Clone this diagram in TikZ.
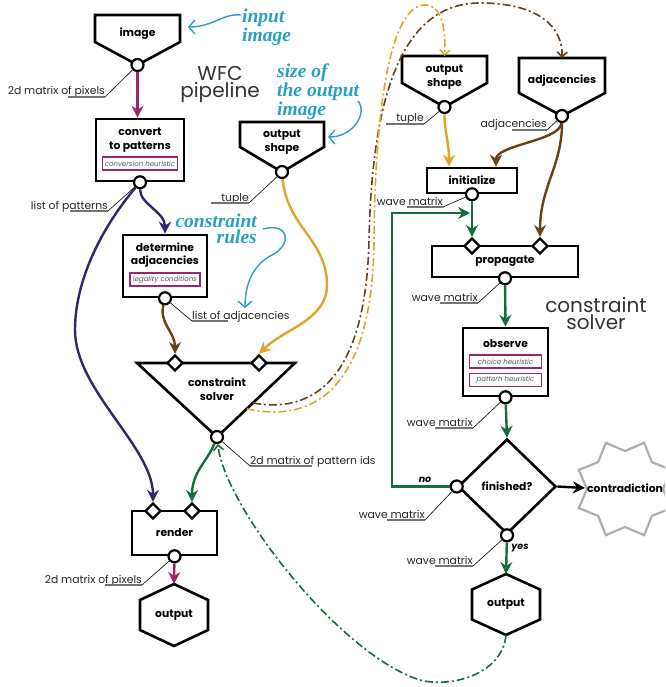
\documentclass[tikz,border=0pt]{standalone}
\usepackage{fontspec}
\setmainfont{Poppins}
\newfontfamily\notefont{Liberation Serif}
\usetikzlibrary{arrows.meta,shapes.geometric,calc}

\definecolor{wfcmagenta}{RGB}{155,38,104}
\definecolor{wfcnavy}{RGB}{45,40,105}
\definecolor{wfcbrown}{RGB}{105,65,25}
\definecolor{wfcgold}{RGB}{222,165,45}
\definecolor{wfcgreen}{RGB}{20,110,60}
\definecolor{wfccyan}{RGB}{40,160,195}
\definecolor{wfcgray}{RGB}{175,175,175}

\begin{document}
\begin{tikzpicture}[
    x=1pt, y=-1pt,
    every node/.style={align=center, inner sep=0pt},
    % Stile per i contorni dei blocchi
    outline/.style={line width=2.6pt, line join=miter},
    block/.style={draw, line width=2.6pt, fill=white},
    % Stile per i testi dei blocchi
    txt/.style={font=\bfseries\fontsize{10.8}{13.5}\selectfont},
    % Stile per le euristiche
    heur/.style={draw=wfcmagenta, line width=1.3pt, minimum height=13pt, font=\itshape\fontsize{7}{8}\selectfont, text=black!65},
    % Porte di uscita e di ingresso
    outport/.style={circle, draw, fill=white, line width=2.2pt, minimum size=12pt},
    inport/.style={diamond, draw, fill=white, line width=2.2pt, minimum size=16pt},
    % Etichette dei dati
    lbl/.style={font=\fontsize{10.8}{12}\selectfont, text=black!85},
    uline/.style={draw=black!55, line width=1.1pt},
    leader/.style={line width=0.6pt},
    % Frecce
    flow/.style={line width=2.4pt, -{Stealth[length=12pt,width=12pt,inset=4pt]}},
    remote/.style={line width=1.6pt, dash pattern=on 8pt off 3pt on 2pt off 3pt, -{Straight Barb[length=5pt,width=10pt]}},
    % Note e titoli
    note/.style={font=\notefont\bfseries\itshape\fontsize{19.5}{15.5}\selectfont, text=wfccyan},
    notearrow/.style={draw=wfccyan, line width=1.4pt, -{Straight Barb[length=6pt,width=14pt]}},
    title/.style={font=\fontsize{20}{17}\selectfont, text=black!80},
    branch/.style={font=\bfseries\itshape\fontsize{9.5}{11}\selectfont}
]
\useasboundingbox (0,0) rectangle (665,687);
\clip (0,0) rectangle (665,687);

% --- PIPELINE WFC ---
% Immagine di ingresso
\node[txt] (img) at (137.5,34) {image};
\draw[outline] ($(img)+(-42.5,-19)$) -- ++(85,0) -- ++(0,27) -- ++(-42.5,23) coordinate (imgtip) -- ++(-42.5,-23) -- cycle;
\node[outport] (imgport) at (imgtip) {};

% Conversione in pattern
\node[block, minimum width=88pt, minimum height=62pt] (conv) at (140,150) {};
\node[txt] (convtxt) at (140,140) {convert\\to patterns};
\node[heur, minimum width=75pt] (convheur) at (140,163.5) {conversion heuristic};
\node[outport] (convport) at (conv.south) {};

% Forma di uscita
\node[txt] (oshape) at (282,142) {output\\shape};
\draw[outline] ($(oshape)+(-42,-20)$) -- ++(84,0) -- ++(0,25) -- ++(-42,25) coordinate (oshapetip) -- ++(-42,-25) -- cycle;
\node[outport] (oshapeport) at (oshapetip) {};

% Adiacenze
\node[block, minimum width=84pt, minimum height=62pt] (adj) at (165,266) {};
\node[txt] (adjtxt) at (165,255) {determine\\adjacencies};
\node[heur, minimum width=70pt] (adjheur) at (165,279.5) {legality conditions};
\node[outport] (adjport) at (adj.south) {};

% Risolutore (triangolo)
\coordinate (solvtl) at (137,363);
\coordinate (solvtr) at (295,363);
\coordinate (solvtip) at (217,437);
\draw[outline] (solvtl) -- (solvtr) -- (solvtip) -- cycle;
\node[txt] (solver) at (217,389) {constraint\\solver};
\node[inport] (solvin1) at (175,363) {};
\node[inport] (solvin2) at (259,363) {};
\node[outport] (solvport) at (solvtip) {};

% Render e uscita
\node[block, txt, minimum width=85pt, minimum height=44pt] (render) at (174.5,533) {render};
\node[inport] (renderin1) at (153,511) {};
\node[inport] (renderin2) at (192,511) {};
\node[outport] (renderport) at (render.south) {};
\node[txt] (out) at (174,615) {output};
\draw[outline] ($(out)+(0,-31)$) coordinate (outtop) -- ++(34,16) -- ++(0,30) -- ++(-34,16) -- ++(-34,-16) -- ++(0,-30) -- cycle;

% --- RISOLUTORE DEI VINCOLI ---
\node[txt] (roshape) at (444.5,77) {output\\shape};
\draw[outline] ($(roshape)+(-42.5,-21)$) -- ++(42.5,0) coordinate (roshapetop) -- ++(42.5,0) -- ++(0,27) -- ++(-42.5,24) coordinate (roshapetip) -- ++(-42.5,-24) -- cycle;
\node[outport] (roshapeport) at (roshapetip) {};

\node[txt] (radj) at (562,81) {adjacencies};
\draw[outline] ($(radj)+(-43,-23)$) -- ++(43,0) coordinate (radjtop) -- ++(43,0) -- ++(0,35) -- ++(-43,23) coordinate (radjtip) -- ++(-43,-23) -- cycle;
\node[outport] (radjport) at (radjtip) {};

\node[block, txt, minimum width=90pt, minimum height=25pt] (init) at (472,180.5) {initialize};
\node[outport] (initport) at (init.south) {};

\node[block, txt, minimum width=146pt, minimum height=31pt] (prop) at (505,261.5) {propagate};
\node[inport] (propin1) at (472,246) {};
\node[inport] (propin2) at (540,246) {};
\node[outport] (propport) at (prop.south) {};

\node[block, minimum width=85pt, minimum height=68pt] (obs) at (505.5,362) {};
\node[txt] (obstxt) at (505.5,344) {observe};
\node[heur, minimum width=72pt] (obsheur1) at (505.5,361.5) {choice heuristic};
\node[heur, minimum width=72pt] (obsheur2) at (505.5,380) {pattern heuristic};
\node[outport] (obsport) at (obs.south) {};

\node[diamond, draw, line width=2.6pt, txt, minimum width=98pt, minimum height=95pt] (fin) at (507,486.5) {finished?};
\node[outport] (noport) at (fin.west) {};
\node[outport] (yesport) at (fin.south) {};

\node[txt] (rout) at (506,604.5) {output};
\draw[outline] ($(rout)+(0,-30.5)$) coordinate (routtop) -- ++(34,15.5) -- ++(0,30) -- ++(-34,15.5) coordinate (routbot) -- ++(-34,-15.5) -- ++(0,-30) -- cycle;

% Contraddizione (stella a 8 punte)
\draw[wfcgray, line width=2.2pt] (625,489) ++(22.5:50) \foreach \a in {45,90,...,360} { -- ($(625,489)+(\a:38)$) -- ($(625,489)+(\a+22.5:50)$) } -- cycle;
\node[txt] (contra) at (625,488) {contradiction};

% --- TITOLI E NOTE ---
\node[title, anchor=north] (wfc) at (220,66) {WFC\\pipeline};
\node[title, anchor=north] (cstitle) at (596,297) {constraint\\solver};
\node[note, anchor=north west, align=left] (inote) at (242,9) {input\\image};
\node[note, anchor=north west, align=left] (snote) at (277,64) {size of\\the output\\image};
\node[note, anchor=north east, align=right] (cnote) at (257,214) {constraint\\rules};
\coordinate (inotestart) at (241,15);
\coordinate (inotetip) at (188,27);
\coordinate (snotestart) at (358,101);
\coordinate (snotetip) at (328,137);
\coordinate (cnotestart) at (263,229);
\coordinate (cnotetip) at (245,308);
\draw[notearrow] (inotestart) .. controls +(-18,-2) and +(25,0) .. (inotetip);
\draw[notearrow] (snotestart) .. controls +(10,12) and +(25,0) .. (snotetip);
\draw[notearrow] (cnotestart) .. controls +(27,-7) and +(20,-10) .. (272,255) .. controls +(-16,8) and +(0,-28) .. (cnotetip);

% --- FRECCE ---
\draw[flow, wfcmagenta] (imgport) -- (imgport |- conv.north);
\draw[flow, wfcnavy] (convport) .. controls +(0,22) and +(0,-22) .. (adj.north);
\draw[flow, wfcnavy] (convport) .. controls +(-38,45) and +(0,-50) .. (75,330) .. controls +(0,60) and +(0,-55) .. (renderin1.north);
\draw[flow, wfcbrown] (adjport) .. controls +(-6,25) and +(0,-22) .. (solvin1.north);
\draw[flow, wfcgold] (oshapeport) .. controls +(5,55) and +(0,-45) .. (327,285) .. controls +(0,35) and +(25,-25) .. (solvin2.north);
\draw[flow, wfcgreen] (solvport) .. controls +(-10,25) and +(0,-30) .. (renderin2.north);
\draw[flow, wfcmagenta] (renderport) -- (outtop);

\draw[flow, wfcgold] (roshapeport) .. controls +(0,25) and +(0,-25) .. ([xshift=-23pt]init.north);
\draw[flow, wfcbrown] (radjport) .. controls +(-2,25) and +(0,-22) .. ([xshift=24pt]init.north);
\draw[flow, wfcbrown] (radjport) .. controls +(0,50) and +(0,-50) .. (propin2.north);
\draw[flow, wfcgreen] (initport) -- (propin1.north);
\coordinate (fbend) at (470,213);
\draw[flow, wfcgreen] (noport) -- ++(-65,0) |- (fbend);
\draw[flow, wfcgreen] (propport) -- (obs.north);
\draw[flow, wfcgreen] (obsport) -- (fin.north);
\draw[flow, wfcgreen] (yesport) -- (routtop);
\draw[flow, black] (fin.east) -- ([xshift=-2pt]contra.west);
\node[branch] (nolbl) at (425,480) {no};
\node[branch] (yeslbl) at (520,548) {yes};

% Frecce tratteggiate tra i due schemi
\draw[remote, wfcbrown] ($(solvtr)!0.54!(solvtip)$) .. controls (320,415) and (366,370) .. (369,240) .. controls (372,100) and (400,3) .. (480,3) .. controls (540,3) and (563,28) .. (radjtop);
\draw[remote, wfcgold] ($(solvtr)!0.62!(solvtip)$) .. controls (320,425) and (373,380) .. (374,240) .. controls (375,110) and (390,5) .. (425,5) .. controls (442,5) and (446,30) .. (roshapetop);
\draw[remote, wfcgreen] (routbot) .. controls +(-4,40) and +(30,8) .. (420,680) .. controls +(-80,-25) and +(8,70) .. (solvport);

% --- ETICHETTE DEI DATI ---
\node[lbl, anchor=base east] (pixlbl) at (105,95) {2d matrix of pixels};
\draw[uline] ([xshift=-37pt,yshift=-2pt]pixlbl.base east) -- ([yshift=-2pt]pixlbl.base east) coordinate (pixend);
\draw[leader] (pixend) -- (imgport);
\node[lbl, anchor=base east] (patlbl) at (108,209) {list of patterns};
\draw[uline] ([xshift=-38pt,yshift=-2pt]patlbl.base east) -- ([yshift=-2pt]patlbl.base east) coordinate (patend);
\draw[leader] (patend) -- (convport);
\node[lbl, anchor=base east] (tuplbl) at (249,201) {tuple};
\draw[uline] ([xshift=-38pt,yshift=-2pt]tuplbl.base east) -- ([yshift=-2pt]tuplbl.base east) coordinate (tupend);
\draw[leader] (tupend) -- (oshapeport);
\node[lbl, anchor=base west] (adjlbl) at (192,319) {list of adjacencies};
\draw[uline] ([yshift=-2pt]adjlbl.base west) coordinate (adjend) -- ([xshift=36pt,yshift=-2pt]adjlbl.base west);
\draw[leader] (adjend) -- (adjport);
\node[lbl, anchor=base west] (idslbl) at (250,464) {2d matrix of pattern ids};
\draw[uline] ([yshift=-2pt]idslbl.base west) coordinate (idsend) -- ([xshift=62pt,yshift=-2pt]idslbl.base west);
\draw[leader] (idsend) -- (solvport);
\node[lbl, anchor=base east] (pixlbltwo) at (142,583) {2d matrix of pixels};
\draw[uline] ([xshift=-37pt,yshift=-2pt]pixlbltwo.base east) -- ([yshift=-2pt]pixlbltwo.base east) coordinate (pixtwoend);
\draw[leader] (pixtwoend) -- (renderport);
\node[lbl, anchor=base east] (rtuplbl) at (424,122) {tuple};
\draw[uline] ([xshift=-38pt,yshift=-2pt]rtuplbl.base east) -- ([yshift=-2pt]rtuplbl.base east) coordinate (rtupend);
\draw[leader] (rtupend) -- (roshapeport);
\node[lbl, anchor=base east] (radjlbl) at (547,128) {adjacencies};
\draw[uline] ([xshift=-35pt,yshift=-2pt]radjlbl.base east) -- ([yshift=-2pt]radjlbl.base east) coordinate (radjend);
\draw[leader] (radjend) -- (radjport);
\node[lbl, anchor=base east] (wavea) at (443,205) {wave matrix};
\draw[uline] ([xshift=-36pt,yshift=-2pt]wavea.base east) -- ([yshift=-2pt]wavea.base east) coordinate (waveaend);
\draw[leader] (waveaend) -- (initport);
\node[lbl, anchor=base east] (waveb) at (478,301) {wave matrix};
\draw[uline] ([xshift=-38pt,yshift=-2pt]waveb.base east) -- ([yshift=-2pt]waveb.base east) coordinate (wavebend);
\draw[leader] (wavebend) -- (propport);
\node[lbl, anchor=base east] (wavec) at (473,426) {wave matrix};
\draw[uline] ([xshift=-38pt,yshift=-2pt]wavec.base east) -- ([yshift=-2pt]wavec.base east) coordinate (wavecend);
\draw[leader] (wavecend) -- (obsport);
\node[lbl, anchor=base east] (waved) at (425,518) {wave matrix};
\draw[uline] ([xshift=-38pt,yshift=-2pt]waved.base east) -- ([yshift=-2pt]waved.base east) coordinate (wavedend);
\draw[leader] (wavedend) -- (noport);
\node[lbl, anchor=base east] (wavee) at (473,564) {wave matrix};
\draw[uline] ([xshift=-38pt,yshift=-2pt]wavee.base east) -- ([yshift=-2pt]wavee.base east) coordinate (waveeend);
\draw[leader] (waveeend) -- (yesport);

\end{tikzpicture}
\end{document}
